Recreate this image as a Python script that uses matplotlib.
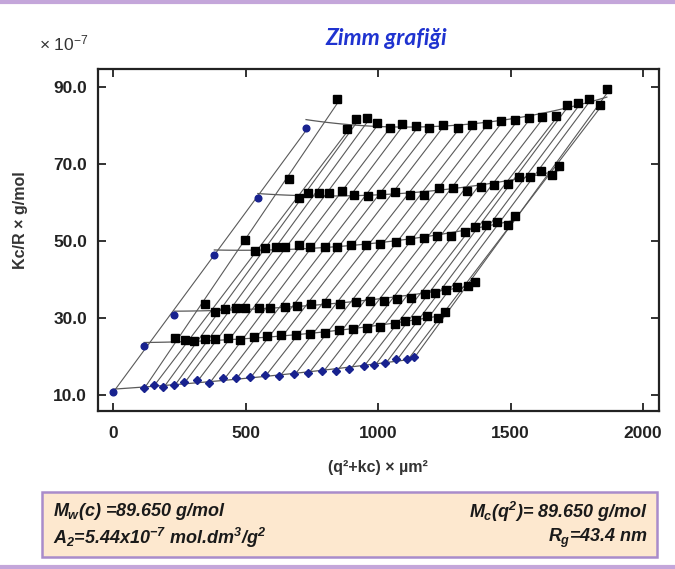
import matplotlib.pyplot as plt
import numpy as np
from matplotlib.patches import Rectangle

plt.rcParams['font.family'] = ['Liberation Sans', 'DejaVu Sans']
plt.rcParams['mathtext.fontset'] = 'custom'
plt.rcParams['mathtext.rm'] = 'Liberation Sans:bold:italic'
plt.rcParams['mathtext.it'] = 'Liberation Sans:bold:italic'
plt.rcParams['mathtext.bf'] = 'Liberation Sans:bold'

# q^2 of each scattering angle and k*c offset of each concentration
q2 = [117, 155, 190, 231, 268, 318, 362, 416, 464, 517, 574, 627,
      684, 737, 790, 842, 892, 945, 985, 1026, 1068, 1110, 1135]
kc = [117, 231, 382, 546, 728]

# Kc/R (x 10^-7) extrapolated to c = 0, one per angle
c0 = [11.9, 12.6, 12.1, 12.6, 13.5, 13.8, 13.2, 14.3, 14.5, 14.7, 15.1, 14.9,
      15.4, 15.8, 16.1, 16.2, 16.7, 17.5, 17.7, 18.4, 19.3, 19.3, 19.9]
# Kc/R extrapolated to q = 0, one per concentration (c = 0 first)
q0 = [10.9, 22.7, 30.8, 46.4, 61.0, 79.4]

# measured Kc/R, one list per concentration, one value per angle
c1 = [24.9, 24.2, 24.0, 24.5, 24.5, 24.7, 24.3, 25.1, 25.2, 25.5, 25.6, 25.8,
      26.2, 26.8, 27.0, 27.3, 27.7, 28.3, 29.2, 29.4, 30.5, 30.1, 31.6]
c2 = [33.6, 31.6, 32.3, 32.7, 32.7, 32.7, 32.7, 32.9, 33.1, 33.6, 34.0, 33.7,
      34.2, 34.4, 34.5, 34.9, 35.3, 36.3, 36.6, 37.2, 38.1, 38.3, 39.4]
c3 = [50.2, 47.4, 48.1, 48.3, 48.3, 48.9, 48.3, 48.3, 48.3, 48.9, 49.0, 49.3,
      49.8, 50.2, 50.7, 51.3, 51.3, 52.4, 53.6, 54.2, 54.8, 54.2, 56.5]
c4 = [66.0, 61.1, 62.3, 62.5, 62.3, 63.0, 61.9, 61.6, 62.1, 62.6, 61.8, 62.0,
      63.8, 63.8, 63.0, 64.0, 64.5, 64.7, 66.6, 66.6, 68.2, 67.1, 69.5]
c5 = [86.8, 79.0, 81.6, 82.0, 80.7, 79.4, 80.3, 79.9, 79.4, 80.1, 79.4, 80.1,
      80.3, 81.0, 81.3, 82.0, 82.2, 82.5, 85.3, 85.7, 86.8, 85.3, 89.4]
rows = [c1, c2, c3, c4, c5]

xticks = [0, 500, 1000, 1500, 2000]
yticks = [10, 30, 50, 70, 90]

line_col = '#5a5a5a'
blue = '#18228f'

fig = plt.figure(figsize=(6.75, 5.69), dpi=100)
ax = fig.add_axes([0.1452, 0.2777, 0.8311, 0.601])

q2a = np.array(q2, float)

# angle lines: fit each angle across concentrations
for j in range(len(q2)):
    xs = [q2[j]] + [q2[j] + k for k in kc]
    ys = [c0[j]] + [r[j] for r in rows]
    p = np.polyfit(xs, ys, 1)
    xx = np.array([xs[0], xs[-1]])
    ax.plot(xx, np.polyval(p, xx), color=line_col, lw=0.8, zorder=1)

# q = 0 line through the extrapolated points
xq0 = [0] + kc
p = np.polyfit(xq0, q0, 1)
xx = np.array([0, kc[-1]])
ax.plot(xx, np.polyval(p, xx), color=line_col, lw=0.8, zorder=1)

# c = 0 line
xs = [0] + q2
ys = [q0[0]] + c0
p = np.polyfit(xs, ys, 2)
xx = np.linspace(0, q2[-1], 100)
ax.plot(xx, np.polyval(p, xx), color=line_col, lw=0.9, zorder=1)

# concentration lines
for i, r in enumerate(rows):
    xs = [kc[i]] + [q + kc[i] for q in q2[1:]]
    ys = [q0[i + 1]] + r[1:]
    p = np.polyfit(xs, ys, 2)
    xx = np.linspace(kc[i], q2[-1] + kc[i], 100)
    ax.plot(xx, np.polyval(p, xx), color=line_col, lw=0.9, zorder=1)
    ax.plot(q2a + kc[i], r, 's', color='black', ms=5.5, zorder=3)

ax.plot(q2, c0, 'D', color=blue, ms=4, zorder=3)
ax.plot(xq0, q0, 'o', color=blue, ms=4.8, zorder=3)

ax.set_xlim(-57, 2060)
ax.set_ylim(5.85, 94.6)
ax.set_xticks(xticks)
ax.set_yticks(yticks)
ax.set_yticklabels(['%.1f' % v for v in yticks])
ax.tick_params(direction='in', top=True, right=True, length=6, width=1.3,
               labelsize=12.5, colors='#222222')
ax.tick_params(axis='x', pad=11)
ax.tick_params(axis='y', pad=8)
for lab in ax.get_xticklabels() + ax.get_yticklabels():
    lab.set_fontweight('bold')
for s in ax.spines.values():
    s.set_linewidth(1.6)
    s.set_color('#222222')

fig.text(0.058, 0.924, '× 10$^{\\mathregular{-7}}$', fontsize=12.5,
         color='#333333', va='center')
fig.text(0.572, 0.932, 'Zimm grafiği', fontsize=16.5, color='#1f33d0',
         fontweight='bold', style='italic', family='Lato', ha='center', va='center')
fig.text(0.031, 0.613, 'Kc/R × g/mol', rotation=90, fontsize=11.5,
         fontweight='bold', color='#333333', ha='center', va='center')
fig.text(0.56, 0.179, '(q²+kc) × µm²', fontsize=11.5, fontweight='bold',
         color='#333333', ha='center', va='center')

# purple rules
fig.add_artist(plt.Line2D([0, 1], [0.996, 0.996], color='#c4a6da', lw=3))
fig.add_artist(plt.Line2D([0, 1], [0.004, 0.004], color='#c4a6da', lw=3))

# result box
fig.add_artist(Rectangle((0.062, 0.021), 0.912, 0.114, transform=fig.transFigure,
                         facecolor='#fde8cf', edgecolor='#a98ccb', lw=1.8))
tk = dict(fontsize=13, fontweight='bold', style='italic',
          color='#1a1a1a', va='center')
fig.text(0.078, 0.101, '$M_w$(c) =89.650 g/mol', ha='left', **tk)
fig.text(0.078, 0.054, '$A_2$=5.44x10$^{-7}$ mol.dm$^3$/g$^2$', ha='left', **tk)
fig.text(0.96, 0.101, '$M_c$(q$^2$)= 89.650 g/mol', ha='right', **tk)
fig.text(0.96, 0.054, '$R_g$=43.4 nm', ha='right', **tk)

fig.savefig('out.png', dpi=100)
